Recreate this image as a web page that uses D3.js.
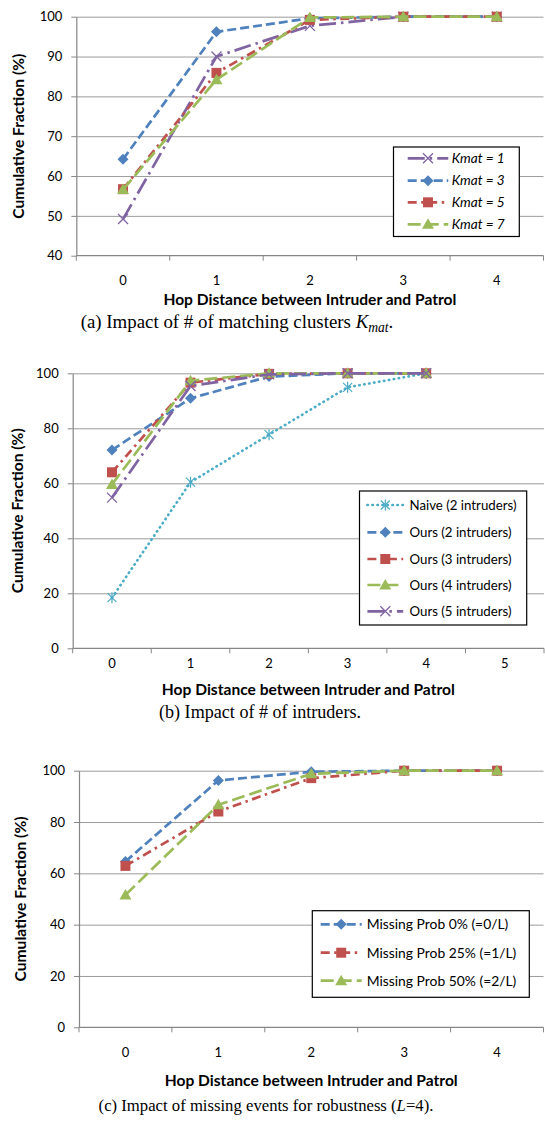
<!DOCTYPE html>
<html><head><meta charset="utf-8">
<script src="https://cdn.jsdelivr.net/npm/d3@7/dist/d3.min.js"></script>
<style>body{margin:0;background:#fff} svg{display:block}</style>
</head><body>
<svg id="chart" width="545" height="1129"></svg>
<script>
// ---------- DATA ----------
// Panel (a)
const hopsA = ["0", "1", "2", "3", "4"];
const ticksA = [40, 50, 60, 70, 80, 90, 100];
const kmat1 = [49.2, 90.0, 97.7, 100, 100];
const kmat3 = [64.2, 96.2, 99.6, 100, 100];
const kmat5 = [56.7, 85.9, 99.2, 100, 100];
const kmat7 = [56.6, 84.2, 99.8, 100, 100];
const namesA = ["Kmat = 1", "Kmat = 3", "Kmat = 5", "Kmat = 7"];
// Panel (b)
const hopsB = ["0", "1", "2", "3", "4", "5"];
const ticksB = [0, 20, 40, 60, 80, 100];
const naive2 = [18.4, 60.4, 77.7, 94.9, 100];
const ours2 = [72.1, 90.9, 98.8, 100, 100];
const ours3 = [64.0, 96.6, 99.8, 100, 100];
const ours4 = [59.6, 97.3, 100, 100, 100];
const ours5 = [54.8, 95.4, 99.6, 100, 100];
const namesB = ["Naive (2 intruders)", "Ours (2 intruders)", "Ours (3 intruders)", "Ours (4 intruders)", "Ours (5 intruders)"];
// Panel (c)
const hopsC = ["0", "1", "2", "3", "4"];
const ticksC = [0, 20, 40, 60, 80, 100];
const miss0 = [64.6, 96.2, 99.6, 100, 100];
const miss25 = [62.9, 84.1, 97.1, 100, 100];
const miss50 = [51.6, 86.7, 98.8, 100, 100];
const namesC = ["Missing Prob 0% (=0/L)", "Missing Prob 25% (=1/L)", "Missing Prob 50% (=2/L)"];

const xTitle = "Hop Distance between Intruder and Patrol";
const yTitle = "Cumulative Fraction (%)";

// ---------- STYLES ----------
const ST = {
  purple: {color: "#8064A2", dash: "17,5,2.5,5", marker: "x"},
  blue:   {color: "#4F81BD", dash: "9,4", marker: "diamond"},
  red:    {color: "#C0504D", dash: "9,4.5,2.5,4.5", marker: "square"},
  green:  {color: "#9BBB59", dash: "13,5", marker: "triangle"},
  cyan:   {color: "#4BACC6", dash: "0.5,4.5", marker: "star", cap: "round"}
};
const SANS = "Lato, 'Open Sans', sans-serif";
const SERIF = "'Liberation Serif', 'Times New Roman', serif";

const svg = d3.select("#chart");

function fit(sel, target) {
  const w = sel.node().getComputedTextLength();
  const fs = parseFloat(sel.attr("font-size"));
  sel.attr("font-size", (fs * target / w).toFixed(2));
}

function drawMarker(g, type, cx, cy, color) {
  const m = g.append("g").attr("transform", `translate(${cx},${cy})`);
  if (type === "diamond") {
    m.append("path").attr("d", "M0,-5.5L5.5,0L0,5.5L-5.5,0Z").attr("fill", color);
  } else if (type === "square") {
    m.append("rect").attr("x", -5).attr("y", -5).attr("width", 10).attr("height", 10).attr("fill", color);
  } else if (type === "triangle") {
    m.append("path").attr("d", "M0,-6L6,4.5L-6,4.5Z").attr("fill", color);
  } else if (type === "x") {
    m.append("path").attr("d", "M-5,-5L5,5M-5,5L5,-5").attr("stroke", color).attr("stroke-width", 1.3).attr("fill", "none");
  } else if (type === "star") {
    m.append("path").attr("d", "M-4.5,-4.5L4.5,4.5M-4.5,4.5L4.5,-4.5M0,-5.5L0,5.5").attr("stroke", color).attr("stroke-width", 1.2).attr("fill", "none");
  }
}

function panel(cfg) {
  const g = svg.append("g");
  const x = d3.scaleBand().domain(cfg.cats).range([cfg.left, cfg.right]);
  const y = d3.scaleLinear().domain(cfg.yDomain).range([cfg.bottom, cfg.top]);
  const bw = x.bandwidth();

  // gridlines
  const grid = d3.axisLeft(y).tickValues(cfg.ticks.filter(t => t !== cfg.yDomain[0]))
    .tickSize(-(cfg.right - cfg.left)).tickFormat("");
  const gg = g.append("g").attr("transform", `translate(${cfg.left},0)`).call(grid);
  gg.select(".domain").remove();
  gg.selectAll("line").attr("stroke", "#9c9c9c").attr("stroke-width", 1);

  // y axis
  const ya = d3.axisLeft(y).tickValues(cfg.ticks).tickSize(5).tickPadding(9).tickSizeOuter(0);
  const yg = g.append("g").attr("transform", `translate(${cfg.left},0)`).call(ya);
  yg.select(".domain").attr("stroke", "#868686").attr("stroke-width", 1.2);
  yg.selectAll("line").attr("stroke", "#868686");
  yg.selectAll("text").attr("font-family", SANS).attr("font-size", 13).attr("fill", "#000");

  // x axis line and boundary ticks
  g.append("line").attr("x1", cfg.left).attr("x2", cfg.right).attr("y1", cfg.bottom).attr("y2", cfg.bottom)
    .attr("stroke", "#868686").attr("stroke-width", 1.2);
  const bounds = cfg.cats.map(c => x(c)).concat([x(cfg.cats[cfg.cats.length - 1]) + bw]);
  g.selectAll(".xt").data(bounds).join("line")
    .attr("x1", d => d).attr("x2", d => d).attr("y1", cfg.bottom).attr("y2", cfg.bottom + 5)
    .attr("stroke", "#868686");
  g.selectAll(".xl").data(cfg.cats).join("text")
    .attr("x", d => x(d) + bw / 2).attr("y", cfg.tickLabelY).attr("dy", "0.35em")
    .attr("text-anchor", "middle").attr("font-family", SANS).attr("font-size", 13).text(d => d);

  // axis titles
  const xt = g.append("text").attr("x", (cfg.left + cfg.right) / 2).attr("y", cfg.titleY).attr("dy", "0.35em")
    .attr("text-anchor", "middle").attr("font-family", SANS).attr("font-weight", "bold").attr("font-size", 13).text(xTitle);
  fit(xt, 293);
  const yt = g.append("text").attr("transform", `translate(${cfg.yTitleX},${(cfg.top + cfg.bottom) / 2}) rotate(-90)`)
    .attr("dy", "0.35em").attr("text-anchor", "middle").attr("font-family", SANS).attr("font-weight", "bold")
    .attr("font-size", 13).text(yTitle);
  fit(yt, 165);

  // series
  cfg.series.forEach(s => {
    const st = ST[s.style];
    const line = d3.line().x((d, i) => x(cfg.cats[i]) + bw / 2).y(d => y(d));
    g.append("path").datum(s.values).attr("d", line).attr("fill", "none")
      .attr("stroke", st.color).attr("stroke-width", st.cap ? 2.6 : 2.7)
      .attr("stroke-dasharray", st.dash).attr("stroke-linecap", st.cap || "butt");
    s.values.forEach((v, i) => drawMarker(g, st.marker, x(cfg.cats[i]) + bw / 2, y(v), st.color));
  });

  // legend
  const L = cfg.legend;
  g.append("rect").attr("x", L.x0).attr("y", L.y0).attr("width", L.x1 - L.x0).attr("height", L.y1 - L.y0)
    .attr("fill", "#fff").attr("stroke", "#000").attr("stroke-width", 1.2);
  cfg.series.forEach((s, i) => {
    const st = ST[s.style];
    const ly = L.rows[i];
    g.append("line").attr("x1", L.lx0).attr("x2", L.lx1).attr("y1", ly).attr("y2", ly)
      .attr("stroke", st.color).attr("stroke-width", st.cap ? 2.6 : 2.7)
      .attr("stroke-dasharray", st.dash).attr("stroke-linecap", st.cap || "butt");
    drawMarker(g, st.marker, (L.lx0 + L.lx1) / 2, ly, st.color);
    const t = g.append("text").attr("x", L.tx).attr("y", ly).attr("dy", "0.35em")
      .attr("font-family", SANS).attr("font-size", 13).attr("font-style", L.italic ? "italic" : "normal")
      .text(s.name);
    if (i === 0) { fit(t, L.w0); L.fs = t.attr("font-size"); } else t.attr("font-size", L.fs);
  });

  // caption
  const cap = svg.append("text").attr("x", cfg.capX).attr("y", cfg.capY).attr("dy", "0.35em")
    .attr("text-anchor", "middle").attr("font-family", SERIF).attr("font-size", 16);
  cfg.caption(cap);
  fit(cap, cfg.capW);
}

panel({
  cats: hopsA, yDomain: [40, 100], ticks: ticksA,
  left: 76.3, right: 543.5, top: 16.7, bottom: 255.7,
  tickLabelY: 280, titleY: 300, yTitleX: 19,
  series: [
    {name: namesA[0], values: kmat1, style: "purple"},
    {name: namesA[1], values: kmat3, style: "blue"},
    {name: namesA[2], values: kmat5, style: "red"},
    {name: namesA[3], values: kmat7, style: "green"}
  ],
  legend: {x0: 393.5, x1: 519.3, y0: 147, y1: 236.5, rows: [158.3, 180.7, 202.3, 224.3],
           lx0: 407.7, lx1: 448.3, tx: 451.7, italic: true, w0: 53},
  capX: 237, capY: 321, capW: 313,
  caption: t => {
    t.append("tspan").text("(a) Impact of # of matching clusters ");
    t.append("tspan").attr("font-style", "italic").text("K");
    t.append("tspan").attr("font-style", "italic").attr("font-size", "72%").attr("dy", "4").text("mat");
    t.append("tspan").attr("dy", "-4").text(".");
  }
});

panel({
  cats: hopsB, yDomain: [0, 100], ticks: ticksB,
  left: 72.7, right: 544, top: 373.3, bottom: 648.3,
  tickLabelY: 663, titleY: 690, yTitleX: 17.5,
  series: [
    {name: namesB[0], values: naive2, style: "cyan"},
    {name: namesB[1], values: ours2, style: "blue"},
    {name: namesB[2], values: ours3, style: "red"},
    {name: namesB[3], values: ours4, style: "green"},
    {name: namesB[4], values: ours5, style: "purple"}
  ],
  legend: {x0: 359.5, x1: 526.7, y0: 491, y1: 625, rows: [505, 532.3, 559, 585, 611.3],
           lx0: 367.4, lx1: 403.2, tx: 409.5, italic: false, w0: 107},
  capX: 260, capY: 712, capW: 202,
  caption: t => { t.text("(b) Impact of # of intruders."); }
});

panel({
  cats: hopsC, yDomain: [0, 100], ticks: ticksC,
  left: 79, right: 543.5, top: 770.7, bottom: 1027.3,
  tickLabelY: 1052, titleY: 1081, yTitleX: 20.7,
  series: [
    {name: namesC[0], values: miss0, style: "blue"},
    {name: namesC[1], values: miss25, style: "red"},
    {name: namesC[2], values: miss50, style: "green"}
  ],
  legend: {x0: 312.3, x1: 529.3, y0: 910.7, y1: 997.3, rows: [924.3, 952.7, 980.7],
           lx0: 320.7, lx1: 361.7, tx: 366.7, italic: false, w0: 141.7},
  capX: 266, capY: 1105, capW: 335,
  caption: t => {
    t.append("tspan").text("(c) Impact of missing events for robustness (");
    t.append("tspan").attr("font-style", "italic").text("L");
    t.append("tspan").text("=4).");
  }
});
</script>
</body></html>
